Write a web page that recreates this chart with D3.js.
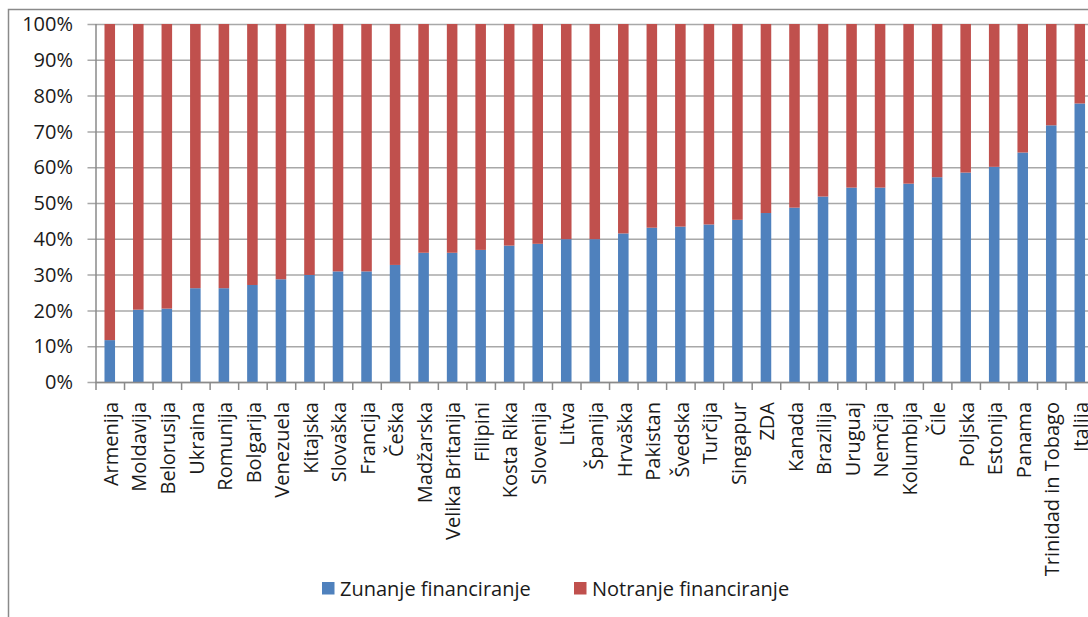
<!DOCTYPE html>
<html>
<head>
<meta charset="utf-8">
<script src="https://cdn.jsdelivr.net/npm/d3@7"></script>
<style>
  html, body { margin: 0; padding: 0; background: #fff; overflow: hidden; }
  svg { display: block; font-family: "Open Sans", sans-serif; }
</style>
</head>
<body>
<svg width="1088" height="617"></svg>
<script>
// categories (countries) and share of external financing, in %
const countries = ["Armenija", "Moldavija", "Belorusija", "Ukraina", "Romunija", "Bolgarija",
  "Venezuela", "Kitajska", "Slovaška", "Francija", "Češka", "Madžarska", "Velika Britanija",
  "Filipini", "Kosta Rika", "Slovenija", "Litva", "Španija", "Hrvaška", "Pakistan", "Švedska",
  "Turčija", "Singapur", "ZDA", "Kanada", "Brazilija", "Uruguaj", "Nemčija", "Kolumbija",
  "Čile", "Poljska", "Estonija", "Panama", "Trinidad in Tobago", "Italija"];
const zunanje = [11.7, 20.2, 20.5, 26.2, 26.2, 27.1, 28.7, 29.9, 30.9, 30.9, 32.7, 36.1, 36.1,
  36.9, 38.1, 38.6, 39.9, 39.9, 41.5, 43.1, 43.4, 44.0, 45.3, 47.2, 48.7, 51.8, 54.3, 54.3,
  55.4, 57.2, 58.5, 60.1, 64.1, 71.7, 77.8];
const notranje = zunanje.map(v => 100 - v);
const seriesNames = ["Zunanje financiranje", "Notranje financiranje"];
const yTicks = [0, 10, 20, 30, 40, 50, 60, 70, 80, 90, 100];

const colors = ["#4F81BD", "#C0504D"];
const svg = d3.select("svg");
const fontSize = "20px";

// outer chart border (chart is cropped on the right and bottom)
svg.append("path")
  .attr("d", "M8.5,617 V9.5 H1088")
  .attr("fill", "none")
  .attr("stroke", "#8a8a8a")
  .attr("stroke-width", 1.5);

const x0 = 95.5, step = 28.53;
const x = d3.scaleBand()
  .domain(countries)
  .range([x0, x0 + step * countries.length])
  .paddingInner(0.63)
  .paddingOuter(0.315);

const y = d3.scaleLinear().domain([0, 100]).range([382, 24]);

// gridlines
svg.append("g")
  .selectAll("line")
  .data(yTicks)
  .join("line")
  .attr("x1", x0 - 8)
  .attr("x2", 1088)
  .attr("y1", d => y(d) + 0.5)
  .attr("y2", d => y(d) + 0.5)
  .attr("stroke", "#a8a8a8")
  .attr("stroke-width", 1.5);

// y axis labels
svg.append("g")
  .selectAll("text")
  .data(yTicks)
  .join("text")
  .attr("x", 73)
  .attr("y", d => y(d))
  .attr("dy", "0.36em")
  .attr("text-anchor", "end")
  .attr("font-size", fontSize)
  .attr("fill", "#1a1a1a")
  .text(d => d + "%");

// stacked bars
const rows = countries.map((c, i) => ({ country: c, zunanje: zunanje[i], notranje: notranje[i] }));
const stack = d3.stack().keys(["zunanje", "notranje"]);
svg.append("g")
  .selectAll("g")
  .data(stack(rows))
  .join("g")
  .attr("fill", (d, i) => colors[i])
  .selectAll("rect")
  .data(d => d)
  .join("rect")
  .attr("x", d => x(d.data.country))
  .attr("y", d => y(d[1]))
  .attr("width", x.bandwidth())
  .attr("height", d => y(d[0]) - y(d[1]));

// y axis line
svg.append("line")
  .attr("x1", x0 + 0.5).attr("x2", x0 + 0.5)
  .attr("y1", y(100)).attr("y2", y(0))
  .attr("stroke", "#8a8a8a").attr("stroke-width", 1.5);

// x axis line and tick marks at band edges
svg.append("line")
  .attr("x1", x0).attr("x2", 1088)
  .attr("y1", y(0) + 0.5).attr("y2", y(0) + 0.5)
  .attr("stroke", "#8a8a8a").attr("stroke-width", 1.5);
svg.append("g")
  .selectAll("line")
  .data(d3.range(countries.length + 1))
  .join("line")
  .attr("x1", i => x0 + 0.5 + i * x.step())
  .attr("x2", i => x0 + 0.5 + i * x.step())
  .attr("y1", y(0))
  .attr("y2", y(0) + 8)
  .attr("stroke", "#8a8a8a")
  .attr("stroke-width", 1.5);

// category labels, rotated
svg.append("g")
  .selectAll("text")
  .data(countries)
  .join("text")
  .attr("transform", d => `translate(${x(d) + x.bandwidth() / 2 + 1},402) rotate(-90)`)
  .attr("dy", "0.36em")
  .attr("text-anchor", "end")
  .attr("font-size", fontSize)
  .attr("fill", "#1a1a1a")
  .text(d => d);

// legend
const legend = svg.append("g")
  .selectAll("g")
  .data(seriesNames)
  .join("g")
  .attr("transform", (d, i) => `translate(${[322, 574][i]},582)`);
legend.append("rect")
  .attr("width", 12.5)
  .attr("height", 12.5)
  .attr("fill", (d, i) => colors[i]);
legend.append("text")
  .attr("x", 18)
  .attr("y", 6.5)
  .attr("dy", "0.36em")
  .attr("font-size", fontSize)
  .attr("fill", "#1a1a1a")
  .text(d => d);
</script>
</body>
</html>
